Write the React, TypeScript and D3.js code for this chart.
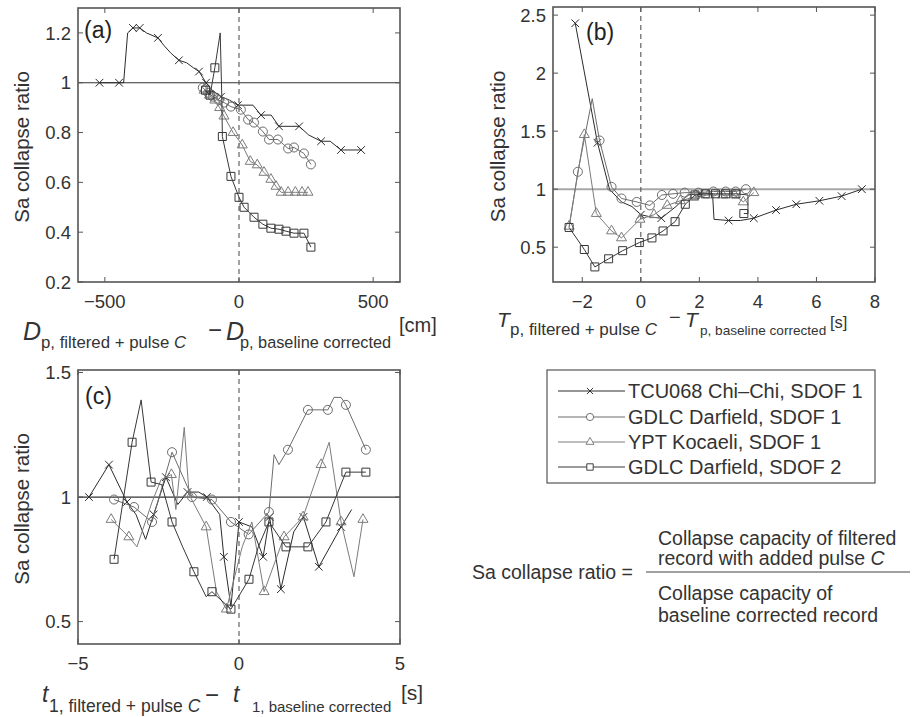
import React from 'react';
import * as d3 from 'd3';

// [x, y, hasMarker]
type Pt = [number, number, number];

const seriesNames = [
  'TCU068 Chi\u2013Chi, SDOF 1',
  'GDLC Darfield, SDOF 1',
  'YPT Kocaeli, SDOF 1',
  'GDLC Darfield, SDOF 2',
];
const seriesMarkers = ['x', 'o', '^', 's'];
const seriesColors = ['#2c2c2c', '#6c6c6c', '#7c7c7c', '#383838'];

// (a) Dp difference [cm]
const aTcu: Pt[] = [
  [-520, 1, 1], [-447, 1, 1], [-430, 1, 0], [-415, 1.2, 0], [-395, 1.22, 1], [-370, 1.22, 1],
  [-345, 1.2, 0], [-302, 1.18, 1], [-280, 1.15, 0], [-255, 1.12, 0], [-224, 1.09, 1],
  [-195, 1.08, 0], [-170, 1.06, 0], [-149, 1.045, 1], [-123, 1.0, 1], [-100, 0.97, 0],
  [-67, 0.944, 1], [-35, 0.93, 0], [-4, 0.91, 1], [52, 0.91, 0], [82, 0.87, 1], [120, 0.87, 0],
  [149, 0.825, 1], [224, 0.825, 1], [260, 0.79, 0], [306, 0.765, 1], [340, 0.765, 0],
  [380, 0.73, 1], [455, 0.73, 1],
];
const aCirc: Pt[] = [
  [-135, 0.98, 1], [-115, 0.96, 1], [-97, 0.944, 1], [-75, 0.93, 1], [-55, 0.92, 1],
  [-30, 0.904, 1], [7, 0.892, 1], [34, 0.852, 1], [56, 0.84, 1], [89, 0.804, 1],
  [112, 0.772, 1], [145, 0.772, 1], [183, 0.736, 1], [205, 0.74, 1], [242, 0.716, 1],
  [268, 0.672, 1],
];
const aTri: Pt[] = [
  [-130, 0.97, 1], [-110, 0.95, 1], [-90, 0.93, 1], [-72, 0.9, 1], [-56, 0.866, 1],
  [-22, 0.8, 1], [12, 0.75, 1], [42, 0.684, 1], [68, 0.67, 1], [93, 0.64, 1], [119, 0.612, 1],
  [138, 0.584, 1], [157, 0.56, 1], [183, 0.56, 1], [210, 0.56, 1], [235, 0.56, 1],
  [257, 0.56, 1],
];
const aSq: Pt[] = [
  [-125, 0.97, 1], [-108, 0.95, 1], [-90, 1.06, 1], [-70, 1.2, 0], [-64, 0.94, 0],
  [-62, 0.784, 1], [-30, 0.624, 1], [0, 0.54, 1], [19, 0.5, 1], [56, 0.46, 1], [89, 0.432, 1],
  [119, 0.416, 1], [149, 0.412, 1], [175, 0.404, 1], [205, 0.396, 1], [242, 0.396, 1],
  [268, 0.34, 1],
];

// (b) Tp difference [s]
const bTcu: Pt[] = [
  [-2.24, 2.43, 1], [-1.48, 1.4, 1], [-1.07, 1.0, 0], [-0.66, 0.89, 0], [-0.3, 0.85, 0],
  [0, 0.78, 1], [0.35, 0.76, 0], [0.7, 0.75, 1], [1.2, 0.85, 0], [1.6, 0.95, 0],
  [2.0, 0.96, 1], [2.45, 0.96, 0], [2.5, 0.74, 0], [3.0, 0.73, 1], [3.4, 0.73, 0],
  [3.86, 0.75, 1], [4.62, 0.82, 1], [5.31, 0.87, 1], [6.1, 0.9, 1], [6.86, 0.94, 1],
  [7.55, 1.0, 1],
];
const bCirc: Pt[] = [
  [-2.45, 0.67, 0], [-2.15, 1.15, 1], [-1.66, 1.78, 0], [-1.41, 1.42, 1], [-1.0, 1.02, 1],
  [-0.66, 0.92, 1], [-0.14, 0.89, 1], [0.31, 0.86, 1], [0.72, 0.95, 1], [1.1, 0.96, 1],
  [1.5, 0.97, 1], [1.97, 0.97, 1], [2.48, 0.98, 1], [2.9, 0.98, 1], [3.24, 0.98, 1],
  [3.59, 1.0, 1],
];
const bTri: Pt[] = [
  [-2.45, 0.68, 1], [-1.93, 1.47, 1], [-1.52, 0.79, 1], [-1.0, 0.64, 1], [-0.66, 0.58, 1],
  [-0.03, 0.74, 1], [0.45, 0.78, 1], [0.9, 0.86, 1], [1.35, 0.9, 1], [1.8, 0.93, 1],
  [2.3, 0.95, 1], [2.8, 0.95, 1], [3.2, 0.95, 1], [3.5, 0.89, 1], [3.86, 0.97, 1],
];
const bSq: Pt[] = [
  [-2.45, 0.67, 1], [-1.93, 0.48, 1], [-1.57, 0.33, 1], [-1.1, 0.4, 1], [-0.62, 0.47, 1],
  [-0.05, 0.54, 1], [0.38, 0.58, 1], [0.76, 0.64, 1], [1.17, 0.72, 1], [1.52, 0.87, 1],
  [1.85, 0.95, 1], [2.2, 0.96, 1], [2.55, 0.96, 1], [2.9, 0.96, 1], [3.25, 0.96, 1],
  [3.66, 0.95, 0], [3.66, 0.79, 0], [3.52, 0.79, 1],
];

// (c) t1 difference [s]
const cTcu: Pt[] = [
  [-4.66, 1.0, 1], [-4.04, 1.13, 1], [-3.48, 0.98, 1], [-3.2, 0.93, 0], [-2.9, 0.83, 0],
  [-2.65, 0.93, 1], [-2.27, 1.08, 1], [-1.9, 0.97, 0], [-1.6, 1.02, 1], [-1.25, 1.02, 0],
  [-1.0, 1.0, 1], [-0.6, 0.93, 0], [-0.47, 0.76, 1], [-0.25, 0.56, 0], [0, 0.9, 1],
  [0.4, 0.88, 0], [0.75, 0.76, 1], [0.95, 0.92, 1], [1.3, 0.63, 1], [1.7, 0.86, 0],
  [2.0, 0.92, 1], [2.48, 0.72, 1], [3.17, 0.88, 1], [3.5, 0.95, 0],
];
const cCirc: Pt[] = [
  [-3.88, 0.99, 1], [-3.26, 0.96, 1], [-2.7, 0.9, 1], [-2.08, 1.18, 1], [-1.46, 1.0, 1],
  [-0.84, 0.99, 1], [-0.25, 0.9, 1], [0.3, 0.85, 1], [0.93, 0.94, 1], [1.09, 1.17, 0],
  [1.24, 1.13, 0], [1.52, 1.19, 1], [2.14, 1.35, 1], [2.76, 1.35, 1], [2.95, 1.4, 0],
  [3.17, 1.4, 0], [3.32, 1.37, 1], [3.94, 1.19, 1],
];
const cTri: Pt[] = [
  [-3.97, 0.91, 1], [-3.42, 0.84, 1], [-3.17, 0.8, 0], [-2.7, 0.98, 0], [-2.42, 1.07, 0],
  [-2.1, 1.09, 1], [-1.96, 0.95, 0], [-1.7, 1.28, 0], [-1.55, 1.01, 1], [-1.02, 0.88, 1],
  [-0.7, 0.62, 0], [-0.39, 0.55, 1], [0.1, 0.8, 0], [0.4, 0.9, 0], [0.78, 0.62, 1],
  [1.4, 0.84, 1], [1.99, 0.92, 1], [2.55, 1.13, 1], [2.8, 1.22, 0], [3.17, 0.9, 1],
  [3.57, 0.68, 0], [3.85, 0.91, 1],
];
const cSq: Pt[] = [
  [-3.88, 0.75, 1], [-3.32, 1.22, 1], [-3.04, 1.39, 0], [-2.73, 1.06, 1], [-2.4, 1.05, 0],
  [-2.08, 0.9, 1], [-1.75, 0.8, 0], [-1.4, 0.7, 1], [-1.02, 0.6, 0], [-0.84, 0.62, 1],
  [-0.25, 0.55, 1], [0.31, 0.67, 1], [0.6, 0.8, 0], [0.93, 0.9, 1], [1.46, 0.8, 1],
  [2.14, 0.8, 1], [2.7, 0.9, 1], [3.32, 1.1, 1], [3.94, 1.1, 1],
];

const aXTicks = [-500, 0, 500];
const aYTicks = [0.2, 0.4, 0.6, 0.8, 1, 1.2];
const bXTicks = [-2, 0, 2, 4, 6, 8];
const bYTicks = [0.5, 1, 1.5, 2, 2.5];
const cXTicks = [-5, 0, 5];
const cYTicks = [0.5, 1, 1.5];

const FONT = '"Liberation Sans", Arial, Helvetica, sans-serif';
const TXT = '#333';
const fmt = (d: number) => (d < 0 ? '\u2212' + Math.abs(d) : String(d));

const symbolFor = (m: string) => {
  if (m === 'x') return d3.symbol(d3.symbolX, 40)();
  if (m === 'o') return d3.symbol(d3.symbolCircle, 64)();
  if (m === '^') return d3.symbol(d3.symbolTriangle2, 72)();
  return d3.symbol(d3.symbolSquare, 64)();
};

interface PanelProps {
  box: [number, number, number, number]; // left, right, top, bottom
  xDomain: [number, number];
  yDomain: [number, number];
  xTicks: number[];
  yTicks: number[];
  data: Pt[][];
  tag: string;
  tagX: number;
  tagY: number;
  refColor: string;
  refWidth: number;
  yLabelX: number;
}

const Panel = ({box, xDomain, yDomain, xTicks, yTicks, data, tag, tagX, tagY, refColor, refWidth, yLabelX}: PanelProps) => {
  const [l, r, t, b] = box;
  const x = d3.scaleLinear().domain(xDomain).range([l, r]);
  const y = d3.scaleLinear().domain(yDomain).range([b, t]);
  const line = d3.line<Pt>().x((d) => x(d[0])).y((d) => y(d[1]));
  const tk = 5;
  return (
    <g>
      {/* reference lines */}
      <line x1={l} x2={r} y1={y(1)} y2={y(1)} stroke={refColor} strokeWidth={refWidth} />
      <line x1={x(0)} x2={x(0)} y1={t} y2={b} stroke="#555" strokeWidth={1.1} strokeDasharray="5,4" />
      {data.map((s, i) => (
        <g key={i}>
          <path d={line(s) || ''} fill="none" stroke={seriesColors[i]} strokeWidth={1} />
          {s.filter((d) => d[2]).map((d, j) => (
            <path key={j} d={symbolFor(seriesMarkers[i]) || ''} transform={`translate(${x(d[0])},${y(d[1])})`}
              fill="none" stroke={seriesColors[i]} strokeWidth={1} />
          ))}
        </g>
      ))}
      <rect x={l} y={t} width={r - l} height={b - t} fill="none" stroke="#555" strokeWidth={1.6} />
      {xTicks.map((v) => (
        <g key={'x' + v}>
          <line x1={x(v)} x2={x(v)} y1={b} y2={b - tk} stroke="#555" />
          <line x1={x(v)} x2={x(v)} y1={t} y2={t + tk} stroke="#555" />
          <text x={x(v)} y={b + 26} textAnchor="middle" fontSize={18.5} fill={TXT}>{fmt(v)}</text>
        </g>
      ))}
      {yTicks.map((v) => (
        <g key={'y' + v}>
          <line x1={l} x2={l + tk} y1={y(v)} y2={y(v)} stroke="#555" />
          <line x1={r} x2={r - tk} y1={y(v)} y2={y(v)} stroke="#555" />
          <text x={l - 7} y={y(v)} dy="0.36em" textAnchor="end" fontSize={18.5} fill={TXT}>{fmt(v)}</text>
        </g>
      ))}
      <text x={tagX} y={tagY} fontSize={23} fill="#222">{tag}</text>
      <text transform={`translate(${yLabelX},${(t + b) / 2 + 2}) rotate(-90)`} textAnchor="middle" fontSize={20.5} fill={TXT}>
        Sa collapse ratio
      </text>
    </g>
  );
};

const App = () => {
  const legendRows = [391, 417, 442, 467];
  return (
    <svg width={914} height={717} style={{position: 'absolute', left: 0, top: 0, background: '#fff'}} fontFamily={FONT}>
      <Panel box={[78, 400, 8, 282]} xDomain={[-600, 600]} yDomain={[0.2, 1.3]} xTicks={aXTicks} yTicks={aYTicks}
        data={[aTcu, aCirc, aTri, aSq]} tag="(a)" tagX={84} tagY={38} refColor="#333" refWidth={1.2} yLabelX={29} />
      <Panel box={[553, 875, 7, 282]} xDomain={[-3, 8]} yDomain={[0.2, 2.57]} xTicks={bXTicks} yTicks={bYTicks}
        data={[bTcu, bCirc, bTri, bSq]} tag="(b)" tagX={586} tagY={40} refColor="#a8a8a8" refWidth={2} yLabelX={505} />
      <Panel box={[78, 400, 370, 644]} xDomain={[-5, 5]} yDomain={[0.41, 1.51]} xTicks={cXTicks} yTicks={cYTicks}
        data={[cTcu, cCirc, cTri, cSq]} tag="(c)" tagX={85} tagY={404} refColor="#333" refWidth={1.2} yLabelX={29} />

      {/* x-axis labels */}
      <g fill={TXT}>
        <text x={23} y={340} fontSize={25} fontStyle="italic">D</text>
        <text x={41} y={348} fontSize={16.8}>p, filtered + pulse <tspan fontStyle="italic">C</tspan></text>
        <text x={208} y={338} fontSize={24}>{'\u2212'}</text>
        <text x={226} y={340} fontSize={25} fontStyle="italic">D</text>
        <text x={240} y={348} fontSize={16.3}>p, baseline corrected</text>
        <text x={399} y={332} fontSize={20}>[cm]</text>

        <text x={497} y={327} fontSize={21} fontStyle="italic">T</text>
        <text x={510} y={335} fontSize={17}>p, filtered + pulse <tspan fontStyle="italic">C</tspan></text>
        <text x={669} y={324} fontSize={20}>{'\u2212'}</text>
        <text x={685} y={327} fontSize={21} fontStyle="italic">T</text>
        <text x={700} y={335} fontSize={13.6}>p, baseline corrected</text>
        <text x={830} y={328} fontSize={16.5}>[s]</text>

        <text x={42} y={702} fontSize={23} fontStyle="italic">t</text>
        <text x={49} y={712} fontSize={17.5}>1, filtered + pulse <tspan fontStyle="italic">C</tspan></text>
        <text x={205} y={703} fontSize={24}>{'\u2212'}</text>
        <text x={233} y={702} fontSize={23} fontStyle="italic">t</text>
        <text x={252} y={712} fontSize={15}>1, baseline corrected</text>
        <text x={401} y={700} fontSize={21}>[s]</text>
      </g>

      {/* legend */}
      <rect x={547} y={370} width={328} height={113} fill="#fff" stroke="#555" strokeWidth={1.2} />
      {seriesNames.map((name, i) => (
        <g key={name}>
          <line x1={558} x2={625} y1={legendRows[i]} y2={legendRows[i]} stroke={seriesColors[i]} strokeWidth={1} />
          <path d={symbolFor(seriesMarkers[i]) || ''} transform={`translate(590,${legendRows[i]}) scale(0.8)`}
            fill="#fff" stroke={seriesColors[i]} strokeWidth={1.2} />
          <text x={628} y={legendRows[i]} dy="0.36em" fontSize={20} fill={TXT}>{name}</text>
        </g>
      ))}

      {/* formula */}
      <g fill={TXT} fontSize={19.5}>
        <text x={472} y={579}>Sa collapse ratio =</text>
        <text x={658} y={545}>Collapse capacity of filtered</text>
        <text x={658} y={565}>record with added pulse <tspan fontStyle="italic">C</tspan></text>
        <line x1={646} x2={910} y1={572} y2={572} stroke="#444" strokeWidth={1.2} />
        <text x={658} y={600}>Collapse capacity of</text>
        <text x={658} y={622}>baseline corrected record</text>
      </g>
    </svg>
  );
};

export default App;
